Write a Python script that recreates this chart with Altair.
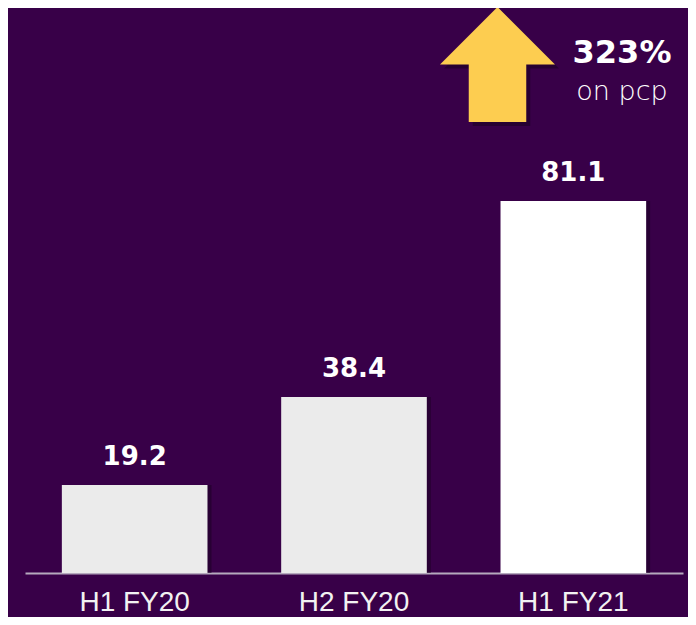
import altair as alt
import pandas as pd

# ---- data ----
categories = ["H1 FY20", "H2 FY20", "H1 FY21"]
values = [19.2, 38.4, 81.1]
value_labels = ["19.2", "38.4", "81.1"]
bar_colors = ["#ebebeb", "#ebebeb", "#ffffff"]
headline = ["323%"]
subline = ["on pcp"]

df = pd.DataFrame({"period": categories, "value": values,
                   "label": value_labels, "color": bar_colors})

BG = "#380048"
ARROW = "M0,-1 L1,0 L0.5,0 L0.5,1 L-0.5,1 L-0.5,0 L-1,0 Z"

x = alt.X("period:N", sort=categories,
          scale=alt.Scale(paddingInner=0.336, paddingOuter=0.168),
          axis=alt.Axis(title=None, labelAngle=0, ticks=False, grid=False,
                        domainColor="#b5a9bd", domainWidth=2,
                        labelColor="#f2f2f2", labelFont="Liberation Sans",
                        labelFontSize=28, labelBaseline="alphabetic",
                        labelPadding=37))
y = alt.Y("value:Q", scale=alt.Scale(domain=[0, 123.2], nice=False), axis=None)

shadow = alt.Chart(df).mark_bar(color="#1c0024", opacity=0.55, xOffset=4).encode(x=x, y=y)
bars = alt.Chart(df).mark_bar().encode(x=x, y=y, color=alt.Color("color:N", scale=None))
labels = alt.Chart(df).mark_text(font="DejaVu Sans", fontWeight="bold", fontSize=26,
                                 color="white", baseline="alphabetic", dy=-20).encode(
    x=x, y=y, text="label:N")

one = pd.DataFrame({"k": [0]})
arrow_shadow = alt.Chart(one).mark_point(shape=ARROW, size=13225, filled=True,
                                         color="#1c0024", opacity=0.6, strokeWidth=0).encode(
    x=alt.value(476.5), y=alt.value(60.5))
arrow = alt.Chart(one).mark_point(shape=ARROW, size=13225, filled=True,
                                  color="#fdcd50", opacity=1, strokeWidth=0).encode(
    x=alt.value(472.5), y=alt.value(56.5))

head = alt.Chart(pd.DataFrame({"t": headline})).mark_text(
    font="DejaVu Sans", fontWeight="bold", fontSize=32, color="white",
    baseline="alphabetic", align="center").encode(
    text="t:N", x=alt.value(597), y=alt.value(55))
sub = alt.Chart(pd.DataFrame({"t": subline})).mark_text(
    font="DejaVu Sans", fontWeight=300, fontSize=27, color="white",
    baseline="alphabetic", align="center").encode(
    text="t:N", x=alt.value(597), y=alt.value(92))

chart = alt.layer(shadow, bars, labels, arrow_shadow, arrow, head, sub).properties(
    width=658, height=565,
    padding={"left": 17, "top": 0, "right": 5, "bottom": 44},
    autosize=alt.AutoSizeParams(type="none"),
    background=BG,
).configure_view(stroke=None)

chart.save("out.html", embed_options={"renderer": "svg", "actions": False})
